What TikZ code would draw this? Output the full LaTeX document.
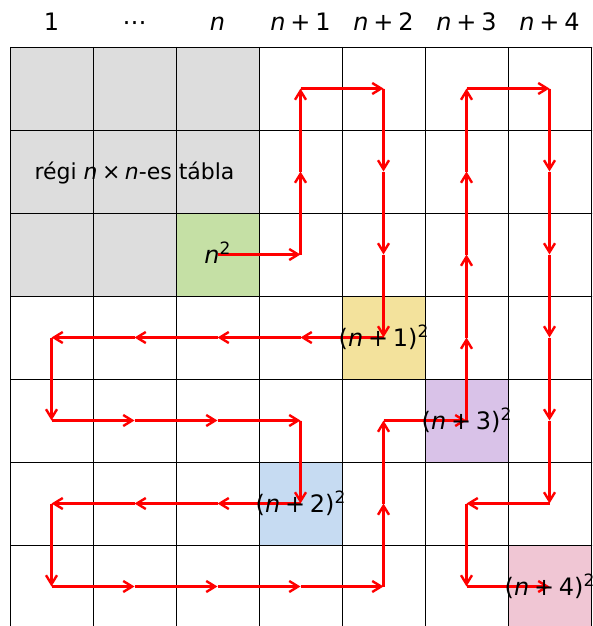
\documentclass[tikz,border=0pt]{standalone}
\usepackage{fontspec}
\setmainfont{DejaVu Sans}
\usetikzlibrary{arrows.meta}
\definecolor{cgray}{HTML}{DDDDDD}
\definecolor{cgreen}{HTML}{C5E0A5}
\definecolor{cyellow}{HTML}{F3E29C}
\definecolor{cpurple}{HTML}{D9C2E8}
\definecolor{cblue}{HTML}{C6DBF2}
\definecolor{cpink}{HTML}{F0C6D4}
\newcommand{\nn}{\textit{n}}
\newcommand{\pl}{\hspace{0.2em}+\hspace{0.2em}}
\newcommand{\sqr}{\raisebox{9pt}{\fontsize{17}{17}\selectfont 2}}
\begin{document}
\begin{tikzpicture}[x=1pt,y=-1pt,
  gridline/.style={black,line width=0.9pt},
  hdr/.style={anchor=base,inner sep=0pt,font=\fontsize{24}{28}\selectfont},
  cell/.style={anchor=base,inner sep=0pt,yshift=-9pt,font=\fontsize{24}{28}\selectfont},
  step arrow/.style={red,line width=2.4pt,-{Straight Barb[length=9pt,width=11pt]}}]
\useasboundingbox (0,0) rectangle (592,626);
\clip (0,0) rectangle (592,626);
% cell centres
\foreach \r in {0,...,6}{
  \foreach \c in {0,...,6}{
    \coordinate (p\r\c) at ({10+83*(\c+0.5)},{47+83*(\r+0.5)});
  }
}
% fills
\fill[cgray] (10,47) rectangle (259,296);
\fill[cgreen] (176,213) rectangle (259,296);
\fill[cyellow] (342,296) rectangle (425,379);
\fill[cpurple] (425,379) rectangle (508,462);
\fill[cblue] (259,462) rectangle (342,545);
\fill[cpink] (508,545) rectangle (591,628);
% grid
\foreach \i in {0,...,7}{
  \draw[gridline] ({10+83*\i},47) -- ({10+83*\i},640);
}
\foreach \i in {0,...,6}{
  \draw[gridline] (10,{47+83*\i}) -- (600,{47+83*\i});
}
% path
\foreach \a/\b in {22/23,23/13,13/03,03/04,04/14,14/24,24/34,34/33,33/32,32/31,31/30,30/40,40/41,41/42,42/43,43/53,53/52,52/51,51/50,50/60,60/61,61/62,62/63,63/64,64/54,54/44,44/45,45/35,35/25,25/15,15/05,05/06,06/16,16/26,26/36,36/46,46/56,56/55,55/65,65/66}{
  \draw[step arrow] (p\a) -- (p\b);
}
% headers
\node[hdr] (h0) at (51.5,31) {1};
\node[hdr] (h1) at (134.5,31) {⋯};
\node[hdr] (h2) at (217.5,31) {\nn};
\node[hdr] (h3) at (300.5,31) {\nn\pl 1};
\node[hdr] (h4) at (383.5,31) {\nn\pl 2};
\node[hdr] (h5) at (466.5,31) {\nn\pl 3};
\node[hdr] (h6) at (549.5,31) {\nn\pl 4};
% labels
\node[anchor=base,inner sep=0pt,font=\fontsize{22}{26}\selectfont] (old) at ([yshift=-7.5pt]p11) {régi \nn\hspace{0.2em}×\hspace{0.2em}\nn-es tábla};
\node[cell] (l0) at (p22) {\nn\sqr};
\node[cell] (l1) at (p34) {(\nn\pl 1)\sqr};
\node[cell] (l2) at (p53) {(\nn\pl 2)\sqr};
\node[cell] (l3) at (p45) {(\nn\pl 3)\sqr};
\node[cell] (l4) at (p66) {(\nn\pl 4)\sqr};
\end{tikzpicture}
\end{document}
